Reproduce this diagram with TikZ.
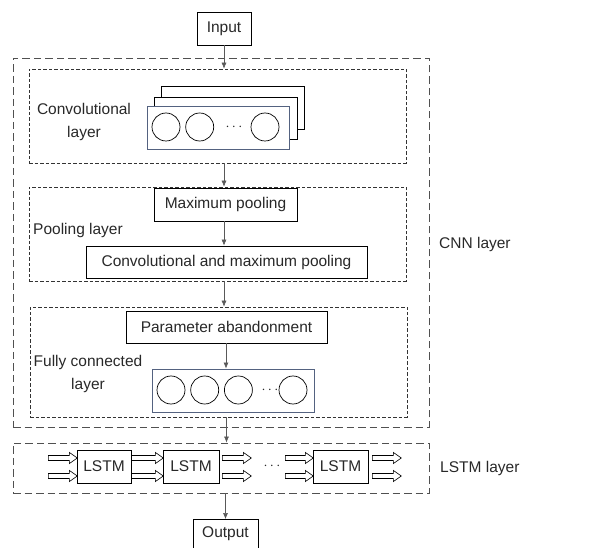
\documentclass[tikz,border=0pt]{standalone}
\usepackage{fontspec}
\setmainfont{Liberation Sans}
\definecolor{framegray}{RGB}{80,80,80}
\definecolor{slateblue}{RGB}{84,98,128}
\definecolor{textgray}{RGB}{40,40,40}
\usetikzlibrary{shapes,arrows.meta,positioning,calc}

\begin{document}
\begin{tikzpicture}[x=1pt,y=-1pt,
    txt/.style={font=\fontsize{15.5}{23}\selectfont, text=textgray, inner sep=0pt},
    blockbox/.style={draw, line width=0.8pt, fill=white, inner sep=0pt, text=textgray, font=\fontsize{15.5}{18}\selectfont},
    outerframe/.style={draw=framegray, line width=0.9pt, dash pattern=on 7.5pt off 4pt, inner sep=0pt},
    innerframe/.style={draw=black!80, line width=0.7pt, dash pattern=on 3.5pt off 2pt, inner sep=0pt},
    unit/.style={draw, circle, line width=0.7pt, minimum size=28pt, inner sep=0pt},
    flowarrow/.style={draw, single arrow, line width=0.6pt, inner sep=2.2pt, minimum width=10.5pt,
        single arrow head extend=3pt, single arrow tip angle=70, anchor=west},
    link/.style={draw=black!65, line width=0.6pt, -{Latex[length=6pt,width=5pt]}}
]
\useasboundingbox (0,0) rectangle (614,548);

% frames
\node[outerframe, minimum width=416pt, minimum height=369pt] (cnnframe) at (221,242.5) {};
\node[innerframe, minimum width=377pt, minimum height=94pt] (convframe) at (217.5,116) {};
\node[innerframe, minimum width=377pt, minimum height=94pt] (poolframe) at (217.5,234) {};
\node[innerframe, minimum width=377pt, minimum height=110pt] (fcframe) at (218.5,362) {};
\node[outerframe, minimum width=416pt, minimum height=50pt] (lstmframe) at (221,468) {};

% input / output
\node[blockbox, minimum width=54pt, minimum height=33pt] (input) at (224,28.5) {Input};
\node[blockbox, minimum width=65pt, minimum height=29pt] (output) at (225.5,534) {Output};

% convolutional layer
\draw[line width=0.8pt, fill=white] (161,86) rectangle (304,129);
\draw[line width=0.8pt, fill=white] (154,97) rectangle (297,139);
\node[draw=slateblue, line width=0.9pt, fill=white, minimum width=142pt, minimum height=43pt] (convmap) at (218,127.5) {};
\node[unit] (cc1) at (166,127) {};
\node[unit, right=5pt of cc1] (cc2) {};
\node[txt] (cdots) at (234,127) {$\cdots$};
\node[unit] (cc3) at (265,127) {};
\node[txt, align=center] (convlbl) at (84,122) {Convolutional\\layer};

% pooling layer
\node[blockbox, minimum width=143pt, minimum height=33pt] (maxpool) at (225.5,204.5) {Maximum pooling};
\node[blockbox, minimum width=281pt, minimum height=32pt] (convpool) at (226.5,262) {Convolutional and maximum pooling};
\node[txt, anchor=west] (poollbl) at (33,230) {Pooling layer};

% fully connected layer
\node[blockbox, minimum width=201pt, minimum height=32pt] (param) at (226.5,327) {Parameter abandonment};
\node[draw=slateblue, line width=0.9pt, fill=white, minimum width=162pt, minimum height=43pt] (fcrow) at (233,390.5) {};
\node[unit] (fc1) at (171,390) {};
\node[unit, right=5pt of fc1] (fc2) {};
\node[unit, right=5pt of fc2] (fc3) {};
\node[txt] (fdots) at (270,390) {$\cdots$};
\node[unit] (fc4) at (293,390) {};
\node[txt, align=center] (fclbl) at (88,374) {Fully connected\\layer};

% LSTM layer
\node[blockbox, minimum width=54pt, minimum height=33pt] (lstm1) at (104,466.5) {LSTM};
\node[blockbox, minimum width=56pt, minimum height=33pt] (lstm2) at (191,466.5) {LSTM};
\node[blockbox, minimum width=55pt, minimum height=33pt] (lstm3) at (340.5,466.5) {LSTM};
\node[txt] (ldots) at (272,466) {$\cdots$};
\foreach \x/\len [count=\i] in {48/29, 131/32, 222/29, 285/28, 372/29} {
    \node[flowarrow, minimum height=\len pt] (up\i) at (\x,458) {};
    \node[flowarrow, minimum height=\len pt] (dn\i) at (\x,476) {};
}

% side labels
\node[txt, anchor=west] (cnnlbl) at (439,244) {CNN layer};
\node[txt, anchor=west] (lstmlbl) at (440,468) {LSTM layer};

% connectors
\draw[link] (input.south) -- (input.south |- convframe.north);
\draw[link] (convframe.south -| input.south) -- (poolframe.north -| input.south);
\draw[link] (maxpool.south -| input.south) -- (convpool.north -| input.south);
\draw[link] (poolframe.south -| input.south) -- (fcframe.north -| input.south);
\draw[link] (param.south -| 226,0) -- (fcrow.north -| 226,0);
\draw[link] (fcframe.south -| 226.5,0) -- (lstmframe.north -| 226.5,0);
\draw[link] (lstmframe.south -| output.north) -- (output.north);
\end{tikzpicture}
\end{document}
